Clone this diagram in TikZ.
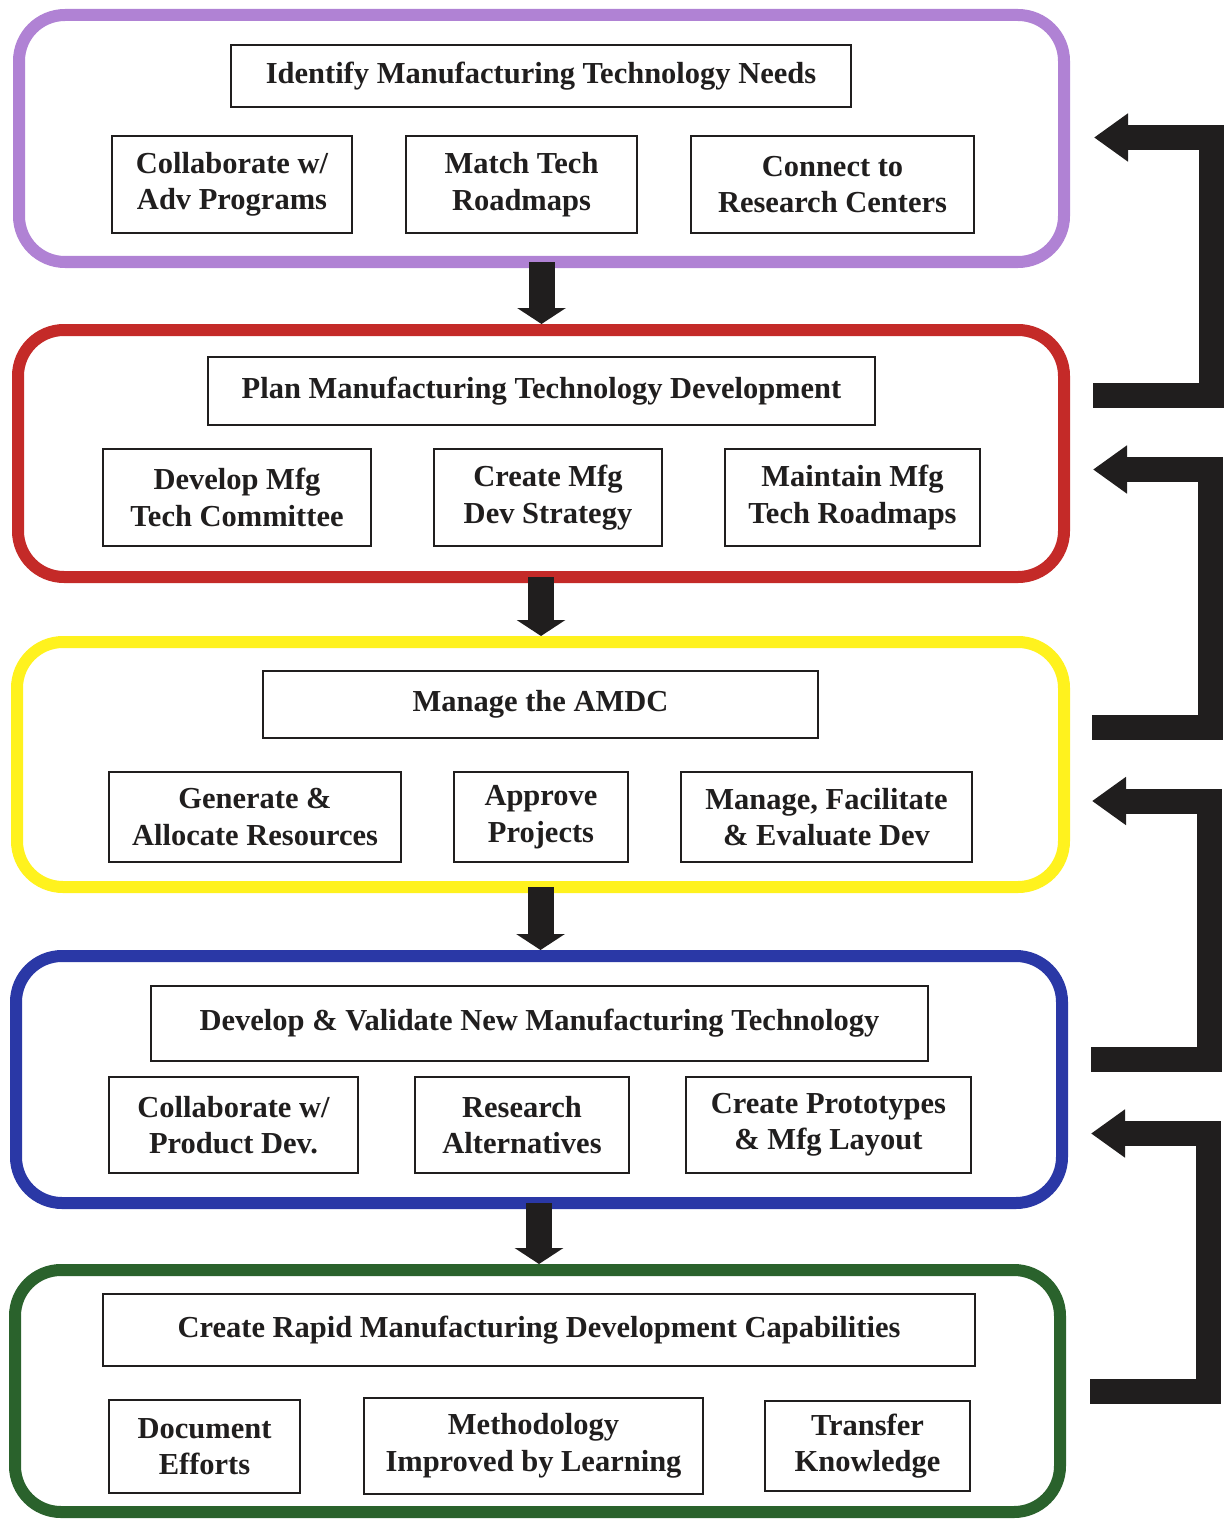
\documentclass[tikz,border=0pt]{standalone}
\usepackage{fontspec}
\setmainfont{Liberation Serif}
\usetikzlibrary{arrows.meta}

\definecolor{inkc}{RGB}{32,30,30}
\definecolor{stgpurple}{RGB}{176,130,212}
\definecolor{stgred}{RGB}{196,42,40}
\definecolor{stgyellow}{RGB}{255,242,30}
\definecolor{stgblue}{RGB}{42,56,166}
\definecolor{stggreen}{RGB}{42,98,44}

\tikzset{
  stage/.style={draw=#1, line width=12pt, rounded corners=46pt, outer sep=0pt, inner sep=0pt},
  task/.style={draw=inkc, line width=2.4pt, inner sep=0pt, outer sep=0pt, align=center,
               text=inkc, font=\fontsize{30.5}{36.5}\selectfont\bfseries},
  flowdown/.style={draw=inkc, line width=26pt,
                   -{Triangle[width=48pt,length=16pt]}, shorten >=6pt},
  feedback/.style={draw=inkc, line width=25pt, line join=miter, line cap=butt,
                   -{Triangle[width=46pt,length=34pt]}}
}

\begin{document}
\begin{tikzpicture}[x=1pt,y=-1pt]
\useasboundingbox (0,0) rectangle (1231,1522);

% ---- stage frames ----
\node[stage=stgpurple, minimum width=1045pt, minimum height=247pt] (s1) at (541.5,138.5) {};
\node[stage=stgred,    minimum width=1046pt, minimum height=247pt] (s2) at (541,453.5) {};
\node[stage=stgyellow, minimum width=1047pt, minimum height=245pt] (s3) at (540.5,764.5) {};
\node[stage=stgblue,   minimum width=1046pt, minimum height=247pt] (s4) at (539,1079.5) {};
\node[stage=stggreen,  minimum width=1045pt, minimum height=242pt] (s5) at (537.5,1391) {};

% ---- stage 1 ----
\node[task, minimum width=620pt, minimum height=62pt] (t1) at (541,76) {Identify Manufacturing Technology Needs};
\node[task, minimum width=240pt, minimum height=97pt] (a1) at (232,184.5) {Collaborate w/\\Adv Programs};
\node[task, minimum width=231pt, minimum height=97pt] (b1) at (521.5,184.5) {Match Tech\\Roadmaps};
\node[task, minimum width=283pt, minimum height=97pt] (c1) at (832.5,184.5) {Connect to\\Research Centers};

% ---- stage 2 ----
\node[task, minimum width=667pt, minimum height=68pt] (t2) at (541.5,391) {Plan Manufacturing Technology Development};
\node[task, minimum width=268pt, minimum height=97pt] (a2) at (237,497.5) {Develop Mfg\\Tech Committee};
\node[task, minimum width=228pt, minimum height=97pt] (b2) at (548,497.5) {Create Mfg\\Dev Strategy};
\node[task, minimum width=255pt, minimum height=97pt] (c2) at (852.5,497.5) {Maintain Mfg\\Tech Roadmaps};

% ---- stage 3 ----
\node[task, minimum width=555pt, minimum height=67pt] (t3) at (540.5,704.5) {Manage the AMDC};
\node[task, minimum width=292pt, minimum height=90pt] (a3) at (255,817) {Generate \&\\Allocate Resources};
\node[task, minimum width=174pt, minimum height=90pt] (b3) at (541,817) {Approve\\Projects};
\node[task, minimum width=291pt, minimum height=90pt] (c3) at (826.5,817) {Manage, Facilitate\\\& Evaluate Dev};

% ---- stage 4 ----
\node[task, minimum width=777pt, minimum height=75pt] (t4) at (539.5,1023.5) {Develop \& Validate New Manufacturing Technology};
\node[task, minimum width=249pt, minimum height=96pt] (a4) at (233.5,1125) {Collaborate w/\\Product Dev.};
\node[task, minimum width=214pt, minimum height=96pt] (b4) at (522,1125) {Research\\Alternatives};
\node[task, minimum width=285pt, minimum height=96pt] (c4) at (828.5,1125) {Create Prototypes\\\& Mfg Layout};

% ---- stage 5 ----
\node[task, minimum width=872pt, minimum height=72pt] (t5) at (539,1330) {Create Rapid Manufacturing Development Capabilities};
\node[task, minimum width=191pt, minimum height=93pt] (a5) at (204.5,1446.5) {Document\\Efforts};
\node[task, minimum width=339pt, minimum height=96pt] (b5) at (533.5,1446) {Methodology\\Improved by Learning};
\node[task, minimum width=205pt, minimum height=90pt] (c5) at (867.5,1446) {Transfer\\Knowledge};

% ---- forward flow between stages ----
\draw[flowdown] (s1.south) -- (s1.south |- s2.north);
\draw[flowdown] (s2.south) -- (s2.south |- s3.north);
\draw[flowdown] (s3.south) -- (s3.south |- s4.north);
\draw[flowdown] (s4.south) -- (s4.south |- s5.north);

% ---- feedback loops on the right ----
\coordinate (fa-in)  at (1093,395);   \coordinate (fa-col) at (1211,137.5);  \coordinate (fa-out) at (1094,137.5);
\coordinate (fb-in)  at (1092,727.5); \coordinate (fb-col) at (1210,469.5);  \coordinate (fb-out) at (1093,469.5);
\coordinate (fc-in)  at (1091,1059);  \coordinate (fc-col) at (1209,801);    \coordinate (fc-out) at (1092,801);
\coordinate (fd-in)  at (1090,1391.5);\coordinate (fd-col) at (1208.5,1133.5);\coordinate (fd-out) at (1091,1133.5);

\draw[feedback] (fa-in) -| (fa-col) -- (fa-out);
\draw[feedback] (fb-in) -| (fb-col) -- (fb-out);
\draw[feedback] (fc-in) -| (fc-col) -- (fc-out);
\draw[feedback] (fd-in) -| (fd-col) -- (fd-out);
\end{tikzpicture}
\end{document}
